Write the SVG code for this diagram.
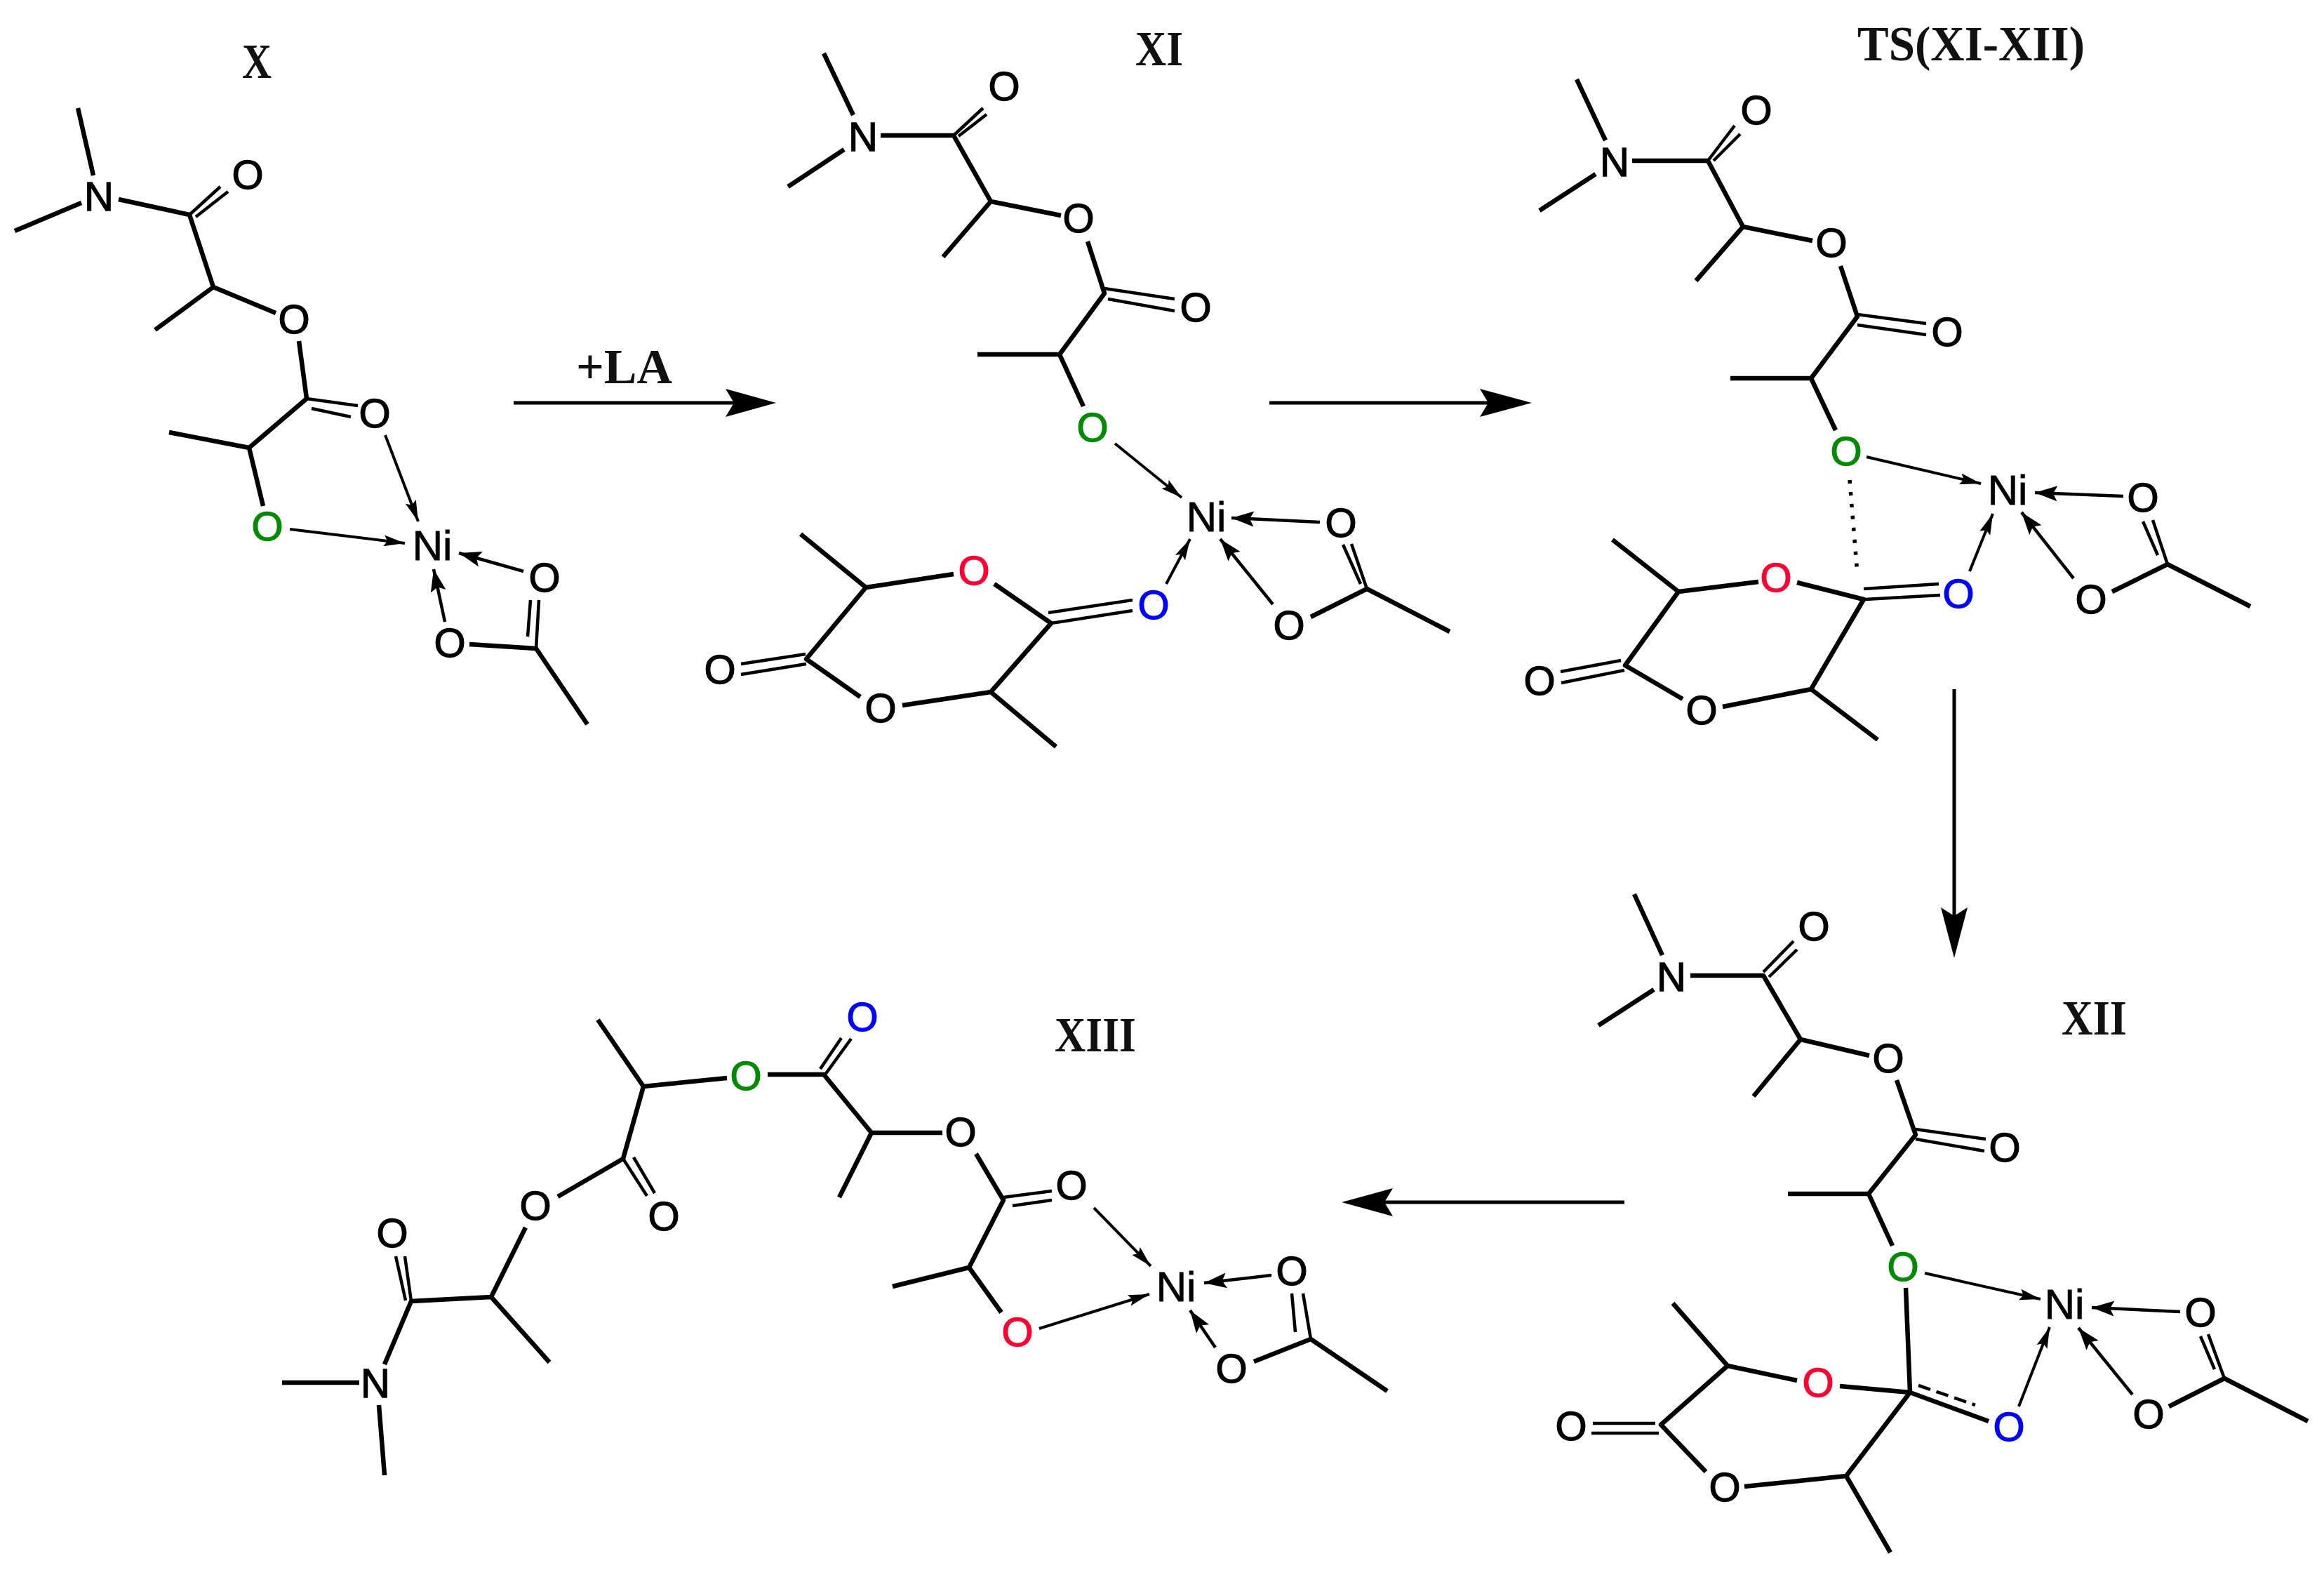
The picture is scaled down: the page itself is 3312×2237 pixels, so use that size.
<svg xmlns="http://www.w3.org/2000/svg" width="3312" height="2237" viewBox="0 0 3312 2237">
<style>
.b{fill:none;stroke:#000;stroke-width:6.5;stroke-linecap:butt;stroke-linejoin:round}
.d{fill:none;stroke:#000;stroke-width:4.5}
.c{fill:none;stroke:#000;stroke-width:4.5;marker-end:url(#big)}
.s{fill:none;stroke:#000;stroke-width:4;marker-end:url(#small)}
.dot{fill:none;stroke:#000;stroke-width:5.5;stroke-dasharray:5 12}
.dash{fill:none;stroke:#000;stroke-width:4.5;stroke-dasharray:18 9}
.r{fill:none;stroke:#000;stroke-width:5}
.a{font-family:"Liberation Sans",Arial,sans-serif;font-size:58px;text-anchor:middle;fill:#000;stroke:#000;stroke-width:1.3}
.ni{font-size:60px;stroke-width:.8}
.g{fill:#008a00;stroke:#008a00}.rd{fill:#ff0033;stroke:#ff0033}.bl{fill:#0000ff;stroke:#0000ff}
.l{font-family:"Liberation Serif","Times New Roman",serif;font-weight:bold;font-size:70px;fill:#111}
</style>
<defs>
<marker id="big" markerUnits="userSpaceOnUse" markerWidth="36" markerHeight="26" refX="32" refY="12" orient="auto"><path d="M0 1L32 12L0 23L6 12Z" fill="#000"/></marker>
<marker id="small" markerUnits="userSpaceOnUse" markerWidth="34" markerHeight="20" refX="30" refY="9" orient="auto"><path d="M0 1L30 9L0 17L5 9Z" fill="#000"/></marker>
</defs>
<rect width="3312" height="2237" fill="#fff"/>

<g id="connectors">
<path class="r" d="M732 574H1050"/><path d="M1106 574L1034 554L1046 574L1034 594Z"/>
<path class="r" d="M1809 574H2125"/><path d="M2183 574L2109 554L2121 574L2109 594Z"/>
<path class="r" d="M2785 982V1310"/><path d="M2785 1365L2766 1293L2785 1305L2804 1293Z"/>
<path class="r" d="M2315 1713H1970"/><path d="M1912 1713L1985 1693L1973 1713L1985 1733Z"/>
<text class="l" x="821" y="546" textLength="137" lengthAdjust="spacingAndGlyphs">+LA</text>
</g>

<g id="node-X">
<text class="l" x="345" y="111" textLength="42" lengthAdjust="spacingAndGlyphs">X</text>
<path class="b" d="M111 154L133 250M21 329L116 289M169 284L270 306L304 409L221 470M304 409L393 446M426 486L437 568L355 638L241 616M355 638L375 721M669 918L764 924L837 1032"/>
<path class="d" d="M270 306L314 266M279 309L325 273M437 568L510 578M444 582L500 594M764 924L768 855M756 855L752 907"/>
<path class="s" d="M413 754L577 774"/>
<path class="s" d="M549 620L596 743"/>
<path class="c" d="M746 814L654 788"/>
<path class="c" d="M634 886L618 811"/>
<text class="a" x="141" y="300">N</text>
<text class="a" x="353" y="269">O</text>
<text class="a" x="419" y="475">O</text>
<text class="a" x="534" y="609">O</text>
<text class="a g" x="381" y="770">O</text>
<text class="a ni" x="616" y="798">Ni</text>
<text class="a" x="776" y="843">O</text>
<text class="a" x="641" y="936">O</text>
</g>

<g id="node-XI">
<text class="l" x="1618" y="93" textLength="68" lengthAdjust="spacingAndGlyphs">XI</text>
<path class="b" d="M1174 76L1216 164M1123 266L1203 213M1255 193H1359L1412 287L1344 366M1412 287L1512 307M1550 344L1574 418L1510 505H1393M1510 505L1544 579M1868 879L1948 839L2066 900M1141 761L1234 837L1359 818M1417 832L1498 888L1412 986L1505 1064M1412 986L1286 1005M1226 993L1149 939L1234 837"/>
<path class="d" d="M1359 193L1401 154M1366 194L1406 163M1574 411L1674 426M1579 426L1674 443M1914 776L1939 832M1948 839L1926 775M1494 873L1614 855M1498 888L1614 870M1056 946L1148 932M1056 961L1149 946"/>
<path class="s" d="M1589 632L1684 709"/>
<path class="s" d="M1662 832L1696 768"/>
<path class="c" d="M1881 744L1755 738"/>
<path class="c" d="M1814 861L1739 768"/>
<text class="a" x="1230" y="215">N</text>
<text class="a" x="1431" y="143">O</text>
<text class="a" x="1537" y="331">O</text>
<text class="a" x="1704" y="458">O</text>
<text class="a g" x="1557" y="629">O</text>
<text class="a ni" x="1719" y="757">Ni</text>
<text class="a" x="1911" y="765">O</text>
<text class="a" x="1837" y="911">O</text>
<text class="a bl" x="1644" y="882">O</text>
<text class="a rd" x="1388" y="833">O</text>
<text class="a" x="1255" y="1029">O</text>
<text class="a" x="1026" y="974">O</text>
</g>

<g id="node-TS">
<text class="l" x="2647" y="86" textLength="324" lengthAdjust="spacingAndGlyphs">TS(XI-XII)</text>
<path class="b" d="M2247 113L2288 200M2194 300L2274 248M2326 229H2434L2484 323L2417 400M2484 323L2583 343M2623 379L2647 451L2581 539H2466M2581 539L2616 613M3010 843L3089 804L3207 864M2298 769L2392 843L2506 829M2561 830L2656 854L2581 982L2676 1054M2581 982L2455 1007M2398 996L2316 948L2392 843"/>
<path class="d" d="M2434 229L2472 179M2442 229L2480 191M2647 448L2745 461M2647 463L2745 477M3089 804L3068 741M3054 743L3075 791M2658 854L2765 848M2656 839L2763 832M2225 973L2315 955M2224 957L2310 941"/>
<path class="dot" d="M2636 684L2647 818"/>
<path class="s" d="M2660 651L2823 689"/>
<path class="s" d="M2807 814L2840 732"/>
<path class="c" d="M3026 707L2900 702"/>
<path class="c" d="M2955 824L2881 730"/>
<text class="a" x="2301" y="251">N</text>
<text class="a" x="2503" y="177">O</text>
<text class="a" x="2610" y="366">O</text>
<text class="a" x="2775" y="493">O</text>
<text class="a g" x="2631" y="663">O</text>
<text class="a ni" x="2861" y="719">Ni</text>
<text class="a" x="3054" y="729">O</text>
<text class="a" x="2980" y="874">O</text>
<text class="a bl" x="2791" y="866">O</text>
<text class="a rd" x="2531" y="843">O</text>
<text class="a" x="2425" y="1032">O</text>
<text class="a" x="2194" y="990">O</text>
</g>

<g id="node-XII">
<text class="l" x="2938" y="1474" textLength="93" lengthAdjust="spacingAndGlyphs">XII</text>
<path class="b" d="M2329 1274L2369 1361M2278 1461L2357 1410M2409 1390H2513L2566 1481L2499 1562M2566 1481L2664 1504M2703 1539L2730 1617L2663 1701H2548M2663 1701L2697 1775M3091 2004L3170 1964L3289 2025M2716 1835L2722 1984L2834 2025M2622 1975L2722 1984L2631 2103L2694 2212M2631 2103L2486 2118M2384 1857L2462 1946L2561 1967M2462 1946L2367 2030L2431 2097"/>
<path class="d" d="M2513 1385L2556 1341M2521 1392L2561 1353M2730 1609L2830 1623M2730 1623L2828 1640M3170 1964L3147 1901M3136 1904L3156 1951M2268 2042H2364M2270 2028H2359"/>
<path class="dash" d="M2734 1974L2815 2002"/>
<path class="s" d="M2743 1814L2908 1851"/>
<path class="s" d="M2877 2004L2921 1891"/>
<path class="c" d="M3107 1869L2981 1863"/>
<path class="c" d="M3039 1987L2962 1892"/>
<text class="a" x="2382" y="1412">N</text>
<text class="a" x="2585" y="1340">O</text>
<text class="a" x="2691" y="1528">O</text>
<text class="a" x="2857" y="1655">O</text>
<text class="a g" x="2712" y="1825">O</text>
<text class="a ni" x="2942" y="1879">Ni</text>
<text class="a" x="3136" y="1890">O</text>
<text class="a" x="3062" y="2035">O</text>
<text class="a bl" x="2863" y="2053">O</text>
<text class="a rd" x="2591" y="1990">O</text>
<text class="a" x="2458" y="2139">O</text>
<text class="a" x="2239" y="2052">O</text>
</g>

<g id="node-XIII">
<text class="l" x="1503" y="1498" textLength="116" lengthAdjust="spacingAndGlyphs">XIII</text>
<path class="b" d="M852 1453L917 1548L1036 1536M1094 1531H1174L1242 1614H1343M1242 1614L1196 1706M1391 1644L1430 1710L1381 1806L1272 1833M1381 1806L1427 1870M1787 1940L1868 1908L1977 1982M917 1548L888 1651L795 1705M749 1749L700 1848L783 1941M700 1848L586 1854L548 1944M512 1970H402M540 2002L548 2102"/>
<path class="d" d="M1169 1523L1199 1479M1176 1531L1213 1480M1430 1706L1499 1697M1443 1718L1499 1710M1868 1908L1857 1843M1841 1843L1846 1898M888 1651L922 1704M903 1649L933 1700M586 1854L577 1790M564 1790L578 1853"/>
<path class="s" d="M1481 1893L1638 1844"/>
<path class="s" d="M1559 1721L1640 1804"/>
<path class="c" d="M1812 1817L1716 1828"/>
<path class="c" d="M1732 1920L1696 1867"/>
<text class="a" x="535" y="1991">N</text>
<text class="a" x="559" y="1777">O</text>
<text class="a" x="763" y="1738">O</text>
<text class="a" x="946" y="1753">O</text>
<text class="a g" x="1063" y="1553">O</text>
<text class="a bl" x="1229" y="1469">O</text>
<text class="a" x="1369" y="1633">O</text>
<text class="a" x="1527" y="1709">O</text>
<text class="a rd" x="1450" y="1918">O</text>
<text class="a ni" x="1676" y="1854">Ni</text>
<text class="a" x="1841" y="1831">O</text>
<text class="a" x="1755" y="1970">O</text>
</g>
</svg>
